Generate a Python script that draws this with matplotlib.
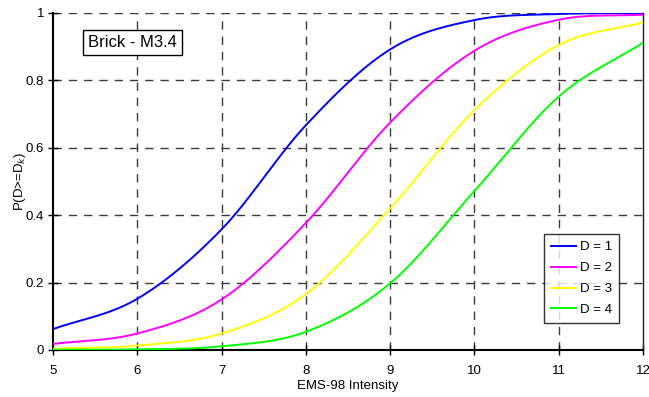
import numpy as np
import matplotlib
matplotlib.use("Agg")
import matplotlib.pyplot as plt
from matplotlib.legend_handler import HandlerLine2D
from matplotlib.lines import Line2D

plt.rcParams['font.family'] = ['Liberation Sans', 'DejaVu Sans']

intensity = [5, 6, 7, 8, 9, 10, 11, 12]
p_d1 = [0.062, 0.152, 0.358, 0.667, 0.892, 0.979, 0.997, 1.000]
p_d2 = [0.018, 0.049, 0.150, 0.377, 0.675, 0.888, 0.980, 0.995]
p_d3 = [0.004, 0.013, 0.049, 0.166, 0.420, 0.712, 0.905, 0.972]
p_d4 = [0.001, 0.002, 0.011, 0.054, 0.198, 0.472, 0.752, 0.912]
labels = ["D = 1", "D = 2", "D = 3", "D = 4"]
colors = ["#0000FF", "#FF00FF", "#FFFF00", "#00FF00"]
title_text = "Brick - M3.4"


def smooth(x, y, n=30):
    """Catmull-Rom rendering of a smoothed line through the data points."""
    x = np.asarray(x, float)
    y = np.asarray(y, float)
    px = np.concatenate([[2 * x[0] - x[1]], x, [2 * x[-1] - x[-2]]])
    py = np.concatenate([[2 * y[0] - y[1]], y, [2 * y[-1] - y[-2]]])
    xs, ys = [], []
    t = np.linspace(0, 1, n, endpoint=False)
    for i in range(1, len(px) - 2):
        for P, out in ((px, xs), (py, ys)):
            p0, p1, p2, p3 = P[i - 1], P[i], P[i + 1], P[i + 2]
            out.extend(0.5 * ((2 * p1) + (-p0 + p2) * t
                              + (2 * p0 - 5 * p1 + 4 * p2 - p3) * t ** 2
                              + (-p0 + 3 * p1 - 3 * p2 + p3) * t ** 3))
    xs.append(x[-1]); ys.append(y[-1])
    return np.array(xs), np.array(ys)


class ShortLineHandler(HandlerLine2D):
    """Draw the legend line only on the right part of the handle box."""
    def create_artists(self, legend, orig_handle, xdescent, ydescent,
                       width, height, fontsize, trans):
        arts = super().create_artists(legend, orig_handle, xdescent, ydescent,
                                      width, height, fontsize, trans)
        for a in arts:
            if isinstance(a, Line2D):
                xd = np.asarray(a.get_xdata(), float)
                if len(xd) == 2:
                    seg = 17.7 * 72 / 100  # handle length in points
                    a.set_xdata([xd[1] - seg, xd[1]])
        return arts


fig = plt.figure(figsize=(6.49, 3.97), dpi=100)
ax = fig.add_axes([0.0817, 0.1184, 0.9091, 0.8489])

for ser, lab, col in zip([p_d1, p_d2, p_d3, p_d4], labels, colors):
    sx, sy = smooth(intensity, ser)
    ax.plot(sx, np.clip(sy, 0, 1), color=col, lw=1.4, label=lab, zorder=3,
            solid_capstyle='butt')

ax.set_xlim(5, 12)
ax.set_ylim(0, 1)
ax.set_xticks(intensity)
ax.set_yticks([0, 0.2, 0.4, 0.6, 0.8, 1.0])
ax.set_yticklabels(["0", "0.2", "0.4", "0.6", "0.8", "1"])

for v in [6, 7, 8, 9, 10, 11]:
    ax.axvline(v, color='#3a3a3a', lw=1.0, dashes=(6, 5), zorder=1)
for v in [0.2, 0.4, 0.6, 0.8, 1.0]:
    ax.axhline(v, color='#3a3a3a', lw=1.0, dashes=(6, 5), zorder=1)

ax.spines['top'].set_visible(False)
ax.spines['left'].set_linewidth(1.5)
ax.spines['bottom'].set_linewidth(1.5)
ax.spines['right'].set_linewidth(1.0)
ax.spines['right'].set_color('#202020')
ax.tick_params(axis='both', direction='inout', length=7, width=1.0,
               labelsize=9.5, colors='black')
ax.tick_params(axis='x', pad=7.5)
ax.tick_params(axis='y', pad=2.8)

ax.set_xlabel("EMS-98 Intensity", fontsize=9.5, labelpad=2.2)
ax.set_ylabel(r"P(D>=D$_k$)", fontsize=9.5)
ax.yaxis.set_label_coords(-0.042, 0.5)

ax.text(0.1347, 0.9125, title_text, transform=ax.transAxes, fontsize=12,
        ha='center', va='center',
        bbox=dict(boxstyle='square,pad=0.3', fc='white', ec='black', lw=1.0))

leg = ax.legend(loc='lower right', bbox_to_anchor=(0.9588, 0.081),
                fontsize=9.5, frameon=True, fancybox=False, handlelength=2.0,
                handletextpad=0.25, borderpad=0.5, labelspacing=0.66,
                borderaxespad=0,
                handler_map={Line2D: ShortLineHandler()})
leg.get_frame().set_edgecolor('black')
leg.get_frame().set_linewidth(1.0)

fig.savefig("out.png", dpi=100)
